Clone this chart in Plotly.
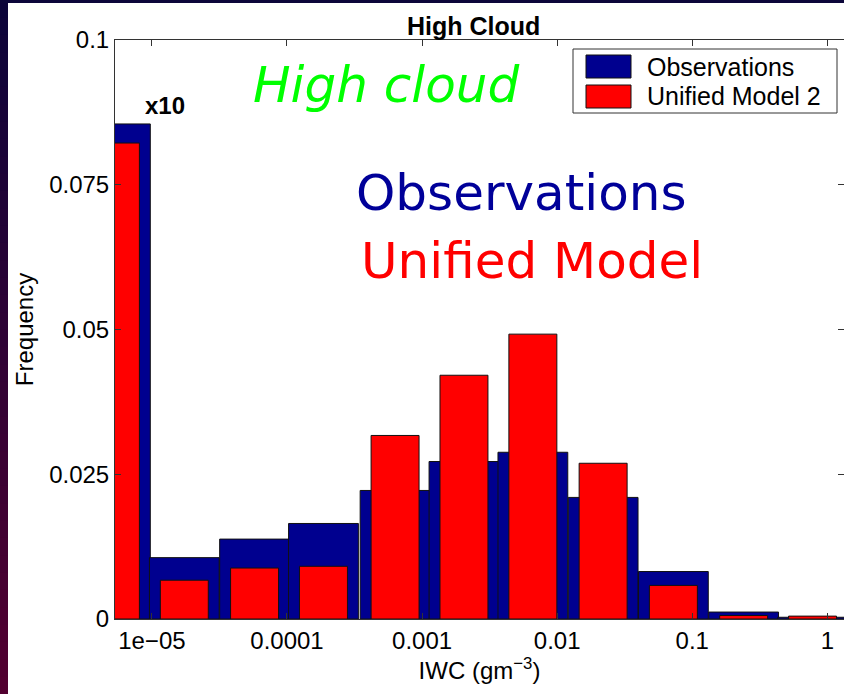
import plotly.graph_objects as go

# Histogram of high-cloud ice water content (IWC): bins are log-spaced.
# Bin centres are given as log10(IWC / g m^-3).
log_iwc_centres = [-5.27, -4.76, -4.24, -3.73, -3.20, -2.69, -2.18, -1.66, -1.14, -0.62, -0.11]
obs_freq = [0.0855, 0.0106, 0.0138, 0.0165, 0.0222, 0.0272, 0.0288, 0.0210, 0.0082, 0.0012, 0.0003]
um_freq = [0.0822, 0.0067, 0.0088, 0.0091, 0.0317, 0.0421, 0.0492, 0.0269, 0.0058, 0.0006, 0.0005]

x_tick_vals = [-5, -4, -3, -2, -1, 0]
x_tick_text = ["1e\u221205", "0.0001", "0.001", "0.01", "0.1", "1"]
y_tick_vals = [0, 0.025, 0.05, 0.075, 0.1]
y_tick_text = ["0", "0.025", "0.05", "0.075", "0.1"]

W, H = 844, 694
ML, MR, MT, MB = 115, 0, 40, 75
PW, PH = W - ML - MR, H - MT - MB

OBS_COLOR = "#00008F"
UM_COLOR = "#FF0000"
FONT = "Liberation Sans"


def px(x):
    """Figure pixel x -> paper x."""
    return (x - ML) / PW


def py(y):
    """Figure pixel y (from top) -> paper y."""
    return (H - MB - y) / PH


fig = go.Figure()
fig.add_trace(go.Bar(
    x=log_iwc_centres, y=obs_freq, width=0.5166, name="Observations",
    marker=dict(color=OBS_COLOR, line=dict(color="#111111", width=1)),
))
fig.add_trace(go.Bar(
    x=log_iwc_centres, y=um_freq, width=0.355, name="Unified Model 2",
    marker=dict(color=UM_COLOR, line=dict(color="#111111", width=1)),
))

shapes = []
# dark slide border: gradient strip on the left, thin band on top
n_seg = 40
c_top, c_bot = (12, 4, 58), (82, 0, 48)
for i in range(n_seg):
    t = i / (n_seg - 1)
    col = "rgb({},{},{})".format(*[round(a + (b - a) * t) for a, b in zip(c_top, c_bot)])
    y0 = H * i / n_seg
    y1 = H * (i + 1) / n_seg + 1
    shapes.append(dict(type="rect", xref="paper", yref="paper", layer="above",
                       x0=px(0), x1=px(8), y0=py(y1), y1=py(y0),
                       fillcolor=col, line=dict(width=0)))
shapes.append(dict(type="rect", xref="paper", yref="paper", layer="above",
                   x0=px(0), x1=px(W), y0=py(3), y1=py(0),
                   fillcolor="rgb(12,6,58)", line=dict(width=0)))

# legend box
shapes.append(dict(type="rect", xref="paper", yref="paper", layer="above",
                   x0=px(573), x1=px(837), y0=py(113), y1=py(49),
                   fillcolor="white", line=dict(color="#333333", width=1)))
shapes.append(dict(type="rect", xref="paper", yref="paper", layer="above",
                   x0=px(586), x1=px(631), y0=py(78), y1=py(55),
                   fillcolor=OBS_COLOR, line=dict(color="#111111", width=1)))
shapes.append(dict(type="rect", xref="paper", yref="paper", layer="above",
                   x0=px(586), x1=px(631), y0=py(108), y1=py(85),
                   fillcolor=UM_COLOR, line=dict(color="#111111", width=1)))

annotations = [
    dict(text="Observations", x=px(645), y=py(66.5), xanchor="left", yanchor="middle",
         font=dict(family=FONT, size=25, color="black")),
    dict(text="Unified Model 2", x=px(645), y=py(96.5), xanchor="left", yanchor="middle",
         font=dict(family=FONT, size=25, color="black")),
    dict(text="<b>High Cloud</b>", x=px(473), y=py(26), xanchor="center", yanchor="middle",
         font=dict(family=FONT, size=25, color="black")),
    dict(text="<b>x10</b>", x=px(165), y=py(106), xanchor="center", yanchor="middle",
         font=dict(family=FONT, size=24, color="black")),
    dict(text="<i>High cloud</i>", x=px(386), y=py(85), xanchor="center", yanchor="middle",
         font=dict(family="DejaVu Sans", size=50, color="#00FF00")),
    dict(text="Observations", x=px(521), y=py(193), xanchor="center", yanchor="middle",
         font=dict(family="DejaVu Sans", size=50, color="#000099")),
    dict(text="Unified Model", x=px(532), y=py(261), xanchor="center", yanchor="middle",
         font=dict(family="DejaVu Sans", size=50, color="#FF0000")),
]
for a in annotations:
    a.update(xref="paper", yref="paper", showarrow=False)

axis_common = dict(
    showline=True, linecolor="#333333", linewidth=1, mirror="ticks",
    ticks="inside", ticklen=6, tickcolor="#333333", tickwidth=1,
    showgrid=False, zeroline=False,
    tickfont=dict(family=FONT, size=24, color="black"),
)

fig.update_layout(
    width=W, height=H,
    margin=dict(l=ML, r=MR, t=MT, b=MB),
    paper_bgcolor="white", plot_bgcolor="white",
    barmode="overlay", showlegend=False,
    xaxis=dict(range=[-5.273, 0.1229], tickmode="array", tickvals=x_tick_vals, ticktext=x_tick_text,
               title=dict(text="IWC (gm<sup>\u22123</sup>)", standoff=6,
                          font=dict(family=FONT, size=24, color="black")),
               **axis_common),
    yaxis=dict(range=[0, 0.1], tickmode="array", tickvals=y_tick_vals, ticktext=y_tick_text,
               title=dict(text="Frequency", standoff=8,
                          font=dict(family=FONT, size=24, color="black")),
               **axis_common),
    shapes=shapes,
    annotations=annotations,
)

fig.write_html("out.html")
